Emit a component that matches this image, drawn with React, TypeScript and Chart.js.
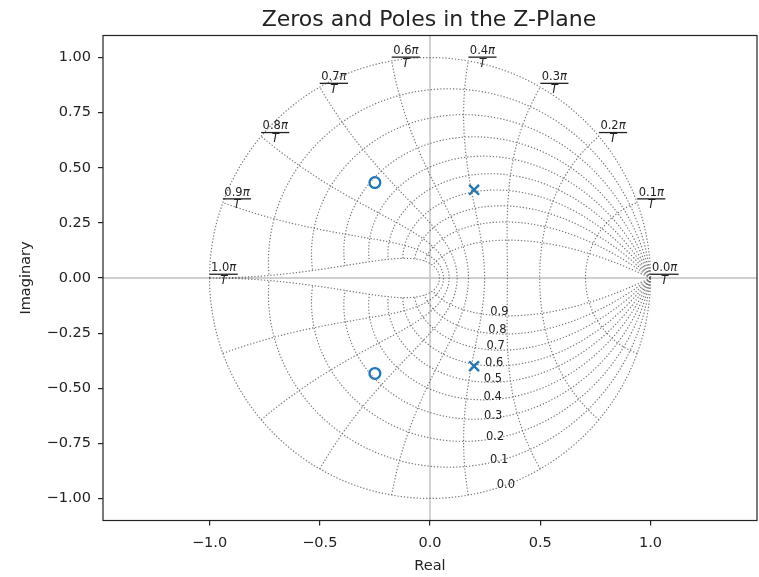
import { useEffect, useRef } from "react";
import { Chart, registerables } from "chart.js";

Chart.register(...registerables);

// ---- data ----
const poleRe = [0.2, 0.2];
const poleIm = [0.4, -0.4];
const zeroRe = [-0.25, -0.25];
const zeroIm = [0.433, -0.433];
// grid parameters (python-control zgrid defaults)
const zetas = [0.0, 0.1, 0.2, 0.3, 0.4, 0.5, 0.6, 0.7, 0.8, 0.9];
const wns = [0.0, 0.1111, 0.2222, 0.3333, 0.4444, 0.5556, 0.6667, 0.7778, 0.8889, 1.0];
const xTicks = [-1.0, -0.5, 0.0, 0.5, 1.0];
const yTicks = [-1.0, -0.75, -0.5, -0.25, 0.0, 0.25, 0.5, 0.75, 1.0];
const TITLE = "Zeros and Poles in the Z-Plane";
const X_LABEL = "Real";
const Y_LABEL = "Imaginary";
const Y_LIM = 1.1;
const X_LIM = 1.4833;

const N = 200;
const ZETA_LABEL_IDX = Math.floor(N / 2.5);
const C0 = "#1f77b4";
const GRID = "rgba(110,110,110,0.95)";
const FONT = "DejaVu Sans";
const TXT = "#222";

function zetaCurve(z: number, sign: number) {
  const pts: { x: number; y: number }[] = [];
  const lim = Math.sqrt(1 - z * z);
  const factor = z / lim;
  for (let i = 0; i < N; i++) {
    const t = (i / (N - 1)) * lim;
    const ang = Math.PI * t;
    const mag = Math.exp(-Math.PI * factor * t);
    pts.push({ x: mag * Math.cos(ang), y: sign * mag * Math.sin(ang) });
  }
  return pts;
}

function wnCurve(a: number) {
  const pts: { x: number; y: number }[] = [];
  for (let i = 0; i < N; i++) {
    const t = -Math.PI / 2 + (i / (N - 1)) * Math.PI;
    const ang = Math.PI * a * Math.sin(t);
    const mag = Math.exp(-Math.PI * a * Math.cos(t));
    pts.push({ x: mag * Math.cos(ang), y: mag * Math.sin(ang) });
  }
  return pts;
}

const fmt = (v: number, d: number) => (v < 0 ? "\u2212" : "") + Math.abs(v).toFixed(d);

const gridStyle = {
  showLine: true,
  pointRadius: 0,
  pointHoverRadius: 0,
  borderColor: GRID,
  borderWidth: 1.15,
  borderDash: [1.3, 1.9],
  fill: false,
  tension: 0,
};

const zplanePlugin = {
  id: "zplane",
  afterDatasetsDraw(chart: any) {
    const { ctx, chartArea: a, scales } = chart;
    const xs = scales.x;
    const ys = scales.y;
    ctx.save();
    // axis zero lines
    ctx.strokeStyle = "rgba(0,0,0,0.25)";
    ctx.lineWidth = 1.4;
    const x0 = xs.getPixelForValue(0);
    const y0 = ys.getPixelForValue(0);
    ctx.beginPath();
    ctx.moveTo(a.left, y0);
    ctx.lineTo(a.right, y0);
    ctx.moveTo(x0, a.top);
    ctx.lineTo(x0, a.bottom);
    ctx.stroke();

    // zeta labels
    ctx.fillStyle = TXT;
    ctx.font = `11.5px "${FONT}"`;
    ctx.textAlign = "left";
    ctx.textBaseline = "alphabetic";
    for (const z of zetas) {
      const pts = zetaCurve(z, -1);
      const p = pts[ZETA_LABEL_IDX];
      ctx.fillText(z.toFixed(1), xs.getPixelForValue(p.x), ys.getPixelForValue(p.y));
    }

    // natural frequency labels (fractions num*pi / T)
    const fs = 11.5;
    for (const w of wns) {
      const pts = wnCurve(w);
      const p = pts[pts.length - 1];
      const px = xs.getPixelForValue(p.x);
      const py = ys.getPixelForValue(p.y);
      const num = w.toFixed(1);
      ctx.font = `${fs}px "${FONT}"`;
      const wNum = ctx.measureText(num).width;
      ctx.font = `italic ${fs}px "${FONT}"`;
      const wPi = ctx.measureText("\u03c0").width;
      const total = wNum + wPi;
      const barW = total + 3;
      ctx.font = `${fs}px "${FONT}"`;
      ctx.fillText(num, px + 1.5, py - 7);
      ctx.font = `italic ${fs}px "${FONT}"`;
      ctx.fillText("\u03c0", px + 1.5 + wNum, py - 7);
      ctx.fillRect(px, py - 4.4, barW, 1.3);
      ctx.font = `italic 11.5px "${FONT}"`;
      ctx.textAlign = "center";
      ctx.fillText("T", px + barW / 2, py + 5.8);
      ctx.textAlign = "left";
    }
    ctx.restore();
  },
  afterDraw(chart: any) {
    const { ctx, chartArea: a } = chart;
    ctx.save();
    // frame
    ctx.strokeStyle = TXT;
    ctx.lineWidth = 1.2;
    ctx.strokeRect(a.left, a.top, a.right - a.left, a.bottom - a.top);
    // title
    ctx.fillStyle = TXT;
    ctx.textAlign = "center";
    ctx.textBaseline = "alphabetic";
    const cx = (a.left + a.right) / 2;
    ctx.font = `22px "${FONT}"`;
    ctx.fillText(TITLE, cx - 1, 25.5);
    // x label
    ctx.font = `14.5px "${FONT}"`;
    ctx.fillText(X_LABEL, cx, 570);
    // y label
    ctx.translate(30, (a.top + a.bottom) / 2);
    ctx.rotate(-Math.PI / 2);
    ctx.fillText(Y_LABEL, 0, 0);
    ctx.restore();
  },
};

export default function App() {
  const ref = useRef<HTMLCanvasElement>(null);
  useEffect(() => {
    const datasets: any[] = [];
    for (const z of zetas) {
      datasets.push({ ...gridStyle, data: zetaCurve(z, 1) });
      datasets.push({ ...gridStyle, data: zetaCurve(z, -1) });
    }
    for (const w of wns) {
      datasets.push({ ...gridStyle, data: wnCurve(w) });
    }
    datasets.push({
      data: poleRe.map((r, i) => ({ x: r, y: poleIm[i] })),
      showLine: false,
      pointStyle: "crossRot",
      pointRadius: 7,
      pointHoverRadius: 7,
      borderColor: C0,
      backgroundColor: C0,
      borderWidth: 2.4,
    });
    datasets.push({
      data: zeroRe.map((r, i) => ({ x: r, y: zeroIm[i] })),
      showLine: false,
      pointStyle: "circle",
      pointRadius: 5.4,
      pointHoverRadius: 5.4,
      borderColor: C0,
      backgroundColor: "rgba(0,0,0,0)",
      borderWidth: 2.3,
    });

    const tickFont = { family: FONT, size: 14.5 };
    const chart = new Chart(ref.current!, {
      type: "scatter",
      data: { datasets },
      plugins: [zplanePlugin],
      options: {
        animation: false,
        responsive: false,
        devicePixelRatio: 1,
        events: [],
        layout: { autoPadding: false, padding: { top: 35.5, right: 2, bottom: 0, left: 0 } },
        plugins: { legend: { display: false }, title: { display: false }, tooltip: { enabled: false } },
        scales: {
          x: {
            type: "linear",
            min: -X_LIM,
            max: X_LIM,
            afterBuildTicks: (s: any) => {
              s.ticks = xTicks.map((v) => ({ value: v }));
            },
            afterFit: (s: any) => {
              s.height = 56.5;
              s.paddingLeft = 0;
              s.paddingRight = 0;
            },
            ticks: {
              callback: (v: any) => fmt(Number(v), 1),
              font: tickFont,
              color: TXT,
              padding: 9,
              maxRotation: 0,
              autoSkip: false,
            },
            grid: { display: true, drawOnChartArea: false, drawTicks: true, tickLength: 5, color: TXT, lineWidth: 1.2 },
            border: { display: false },
          },
          y: {
            type: "linear",
            min: -Y_LIM,
            max: Y_LIM,
            afterBuildTicks: (s: any) => {
              s.ticks = yTicks.map((v) => ({ value: v }));
            },
            afterFit: (s: any) => {
              s.width = 103;
              s.paddingTop = 0;
              s.paddingBottom = 0;
            },
            ticks: {
              callback: (v: any) => fmt(Number(v), 2),
              font: tickFont,
              color: TXT,
              padding: 7,
              autoSkip: false,
            },
            grid: { display: true, drawOnChartArea: false, drawTicks: true, tickLength: 5, color: TXT, lineWidth: 1.2 },
            border: { display: false },
          },
        },
      } as any,
    });
    return () => chart.destroy();
  }, []);
  return (
    <div style={{ position: "absolute", left: 0, top: 0, width: 759, height: 577, background: "#fff" }}>
      <canvas ref={ref} width={759} height={577} style={{ width: 759, height: 577, display: "block" }} />
    </div>
  );
}
